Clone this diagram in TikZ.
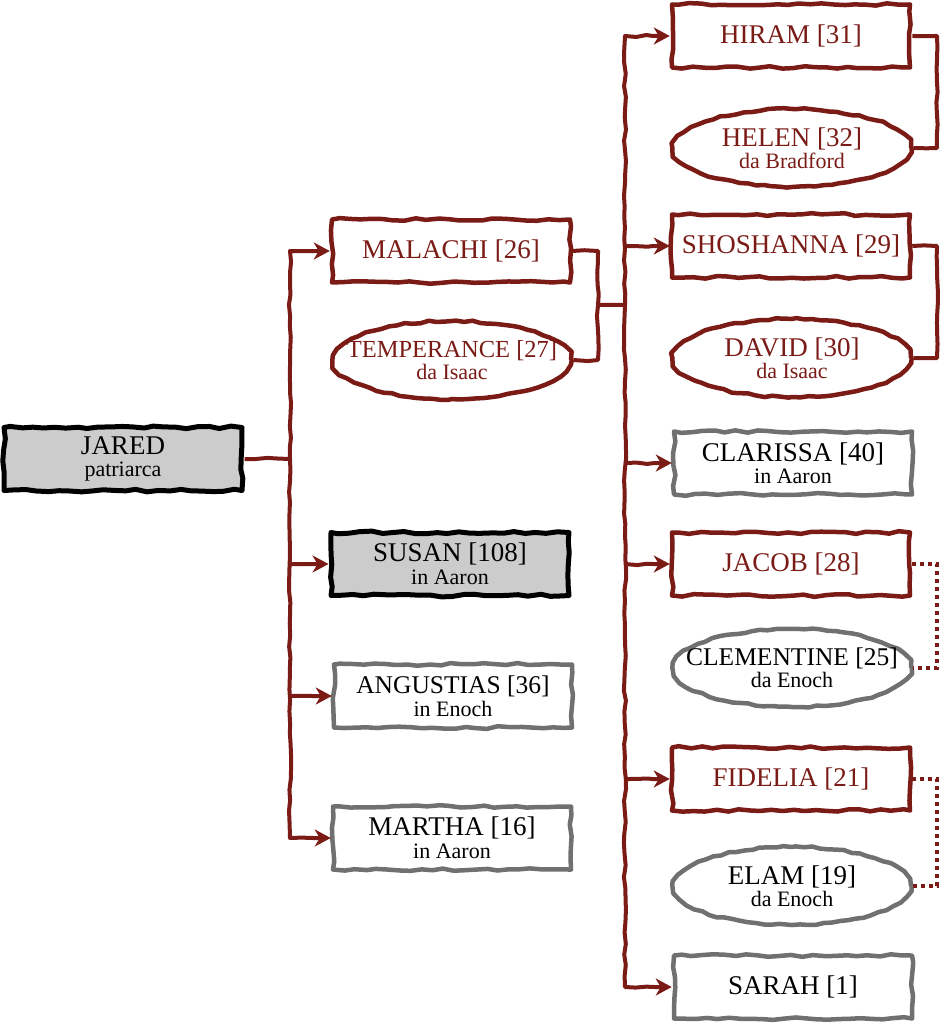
\documentclass[tikz,border=0pt]{standalone}
\usepackage{fontspec}
\setmainfont{Liberation Serif}
\usetikzlibrary{shapes.geometric,decorations.pathmorphing,arrows.meta}
\definecolor{gtred}{RGB}{122,27,22}
\definecolor{gtgray}{RGB}{112,112,112}
\definecolor{gtfill}{RGB}{204,204,204}
\newcommand\subl[1]{{\fontsize{22}{21}\selectfont #1}}
\begin{document}
\begin{tikzpicture}[x=1pt,y=-1pt,
 hand/.style={decorate,decoration={random steps,segment length=11pt,amplitude=1.4pt}},
 person/.style={hand, draw, line width=4.5pt, line join=round, fill=white, minimum width=238pt, minimum height=63pt, inner sep=1pt, align=center, font=\fontsize{27}{21}\selectfont},
 rbox/.style={person, draw=gtred, text=gtred},
 gbox/.style={person, draw=gtgray, text=black},
 kbox/.style={person, draw=black, fill=gtfill, line width=5pt, text=black},
 oval/.style={person, ellipse, minimum width=238pt, minimum height=78pt, inner xsep=-40pt, inner ysep=0pt, decoration={random steps,segment length=8pt,amplitude=1pt}},
 roval/.style={oval, draw=gtred, text=gtred},
 goval/.style={oval, draw=gtgray, text=black},
 conn/.style={draw=gtred, line width=4pt, line join=round, decorate, decoration={random steps,segment length=11pt,amplitude=1.1pt}},
 arr/.style={conn, decoration={random steps,segment length=11pt,amplitude=1.1pt,post length=17pt}, -{Stealth[length=16pt,width=17pt,inset=5pt]}},
 dots/.style={draw=gtred, line width=4pt, dash pattern=on 4pt off 4pt}
]
\pgfmathsetseed{3}
\useasboundingbox (0,0) rectangle (943,1024);

\node[kbox] (jared) at (123,459) {JARED\\[1pt]\subl{patriarca}};
\node[rbox] (malachi) at (451,251) {MALACHI [26]};
\node[roval, font=\fontsize{24.5}{21}\selectfont] (temperance) at (452,360) {TEMPERANCE [27]\\[1pt]\subl{da Isaac}};
\node[kbox] (susan) at (450,564) {SUSAN [108]\\[2pt]\subl{in Aaron}};
\node[gbox, font=\fontsize{25.5}{21}\selectfont] (angustias) at (453,696) {ANGUSTIAS [36]\\[2pt]\subl{in Enoch}};
\node[gbox] (martha) at (452,838) {MARTHA [16]\\[2pt]\subl{in Aaron}};
\node[rbox] (hiram) at (791,36) {HIRAM [31]};
\node[roval] (helen) at (792,148) {HELEN [32]\\[1pt]\subl{da Bradford}};
\node[rbox] (shoshanna) at (791,246) {SHOSHANNA [29]};
\node[roval] (david) at (792,358) {DAVID [30]\\[1pt]\subl{da Isaac}};
\node[gbox] (clarissa) at (793,463) {CLARISSA [40]\\[1pt]\subl{in Aaron}};
\node[rbox] (jacob) at (791,564) {JACOB [28]};
\node[goval, font=\fontsize{25.5}{21}\selectfont] (clementine) at (792,668) {CLEMENTINE [25]\\[1pt]\subl{da Enoch}};
\node[rbox] (fidelia) at (791,779) {FIDELIA [21]};
\node[goval] (elam) at (792,886) {ELAM [19]\\[1pt]\subl{da Enoch}};
\node[gbox] (sarah) at (793,987) {SARAH [1]};

% JARED's children
\coordinate (jb) at (290,459);
\draw[conn] (jared.east) -- (jb);
\draw[arr] (jb) |- (malachi.west);
\draw[arr] (jb) |- (martha.west);
\draw[arr] (susan.west -| jb) -- (susan.west);
\draw[arr] (angustias.west -| jb) -- (angustias.west);

% MALACHI + TEMPERANCE children
\coordinate (mb) at (598,305);
\coordinate (cb) at (625,305);
\draw[conn] (malachi.east) -| (mb) |- (temperance.east);
\draw[conn] (mb) -- (cb);
\draw[arr] (cb) |- (hiram.west);
\draw[arr] (cb) |- (sarah.west);
\draw[arr] (shoshanna.west -| cb) -- (shoshanna.west);
\draw[arr] (clarissa.west -| cb) -- (clarissa.west);
\draw[arr] (jacob.west -| cb) -- (jacob.west);
\draw[arr] (fidelia.west -| cb) -- (fidelia.west);

% couples
\coordinate (hx) at (937,0);
\draw[conn] (hiram.east) -- (hiram.east -| hx) |- (helen.east);
\draw[conn] (shoshanna.east) -- (shoshanna.east -| hx) |- (david.east);
\draw[dots] (jacob.east) -- (jacob.east -| hx) |- (clementine.east);
\draw[dots] (fidelia.east) -- (fidelia.east -| hx) |- (elam.east);
\end{tikzpicture}
\end{document}
